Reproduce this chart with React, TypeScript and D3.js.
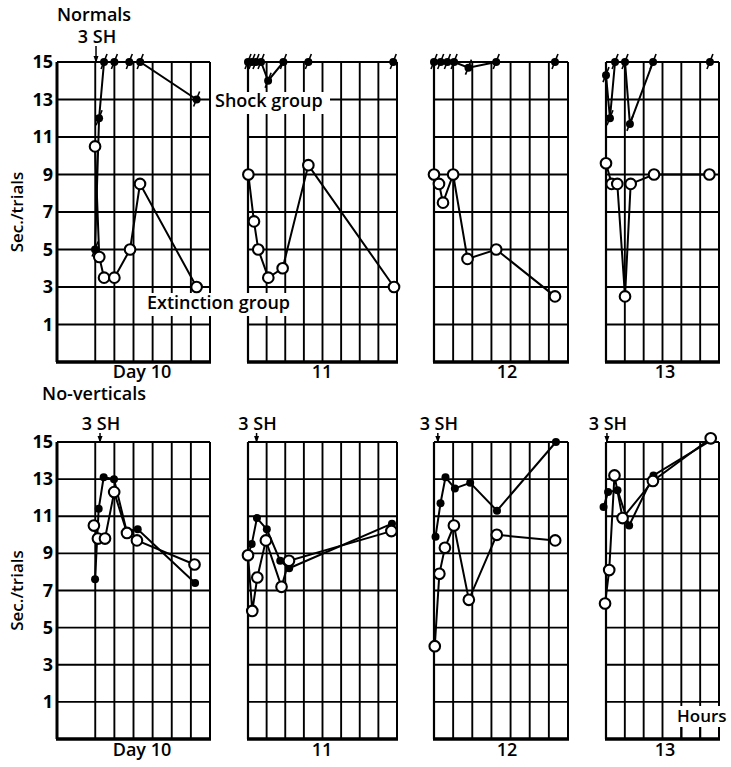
import React from 'react';
import * as d3 from 'd3';

type Pt = [number, number]; // [hour within the day, sec./trial]

const dayLabels = ['Day 10', '11', '12', '13'];
const panelHours = [8, 8, 7, 6];
const yTicks = [15, 13, 11, 9, 7, 5, 3, 1];
const gridValues = [15, 13, 11, 9, 7, 5, 3, 1, -1];

// Normals
const normalsShock10: Pt[] = [[1.99, 5], [2.2, 12], [2.46, 15], [3.0, 15], [3.78, 15], [4.35, 15], [7.3, 13]];
const normalsExt10: Pt[] = [[1.99, 10.5], [2.21, 4.6], [2.46, 3.5], [3.0, 3.5], [3.82, 5], [4.34, 8.5], [7.3, 3]];
const normalsShock11: Pt[] = [[0, 15], [0.21, 15], [0.43, 15], [0.7, 15], [1.08, 14], [1.9, 15], [3.24, 15], [7.8, 15]];
const normalsExt11: Pt[] = [[0.02, 9], [0.32, 6.5], [0.55, 5], [1.09, 3.5], [1.86, 4], [3.24, 9.5], [7.84, 3]];
const normalsShock12: Pt[] = [[0, 15], [0.35, 15], [0.7, 15], [1.05, 15], [1.8, 14.7], [3.25, 15], [6.32, 15]];
const normalsExt12: Pt[] = [[0, 9], [0.26, 8.5], [0.47, 7.5], [1.0, 9], [1.75, 4.5], [3.25, 5], [6.32, 2.5]];
const normalsShock13: Pt[] = [[0, 14.3], [0.21, 12], [0.48, 15], [1.01, 15], [1.27, 11.7], [2.5, 15], [5.52, 15]];
const normalsExt13: Pt[] = [[0, 9.6], [0.3, 8.5], [0.6, 8.5], [1.01, 2.5], [1.31, 8.5], [2.55, 9], [5.49, 9]];

// No-verticals
const noVertShock10: Pt[] = [[1.99, 7.6], [2.18, 11.4], [2.44, 13.1], [2.98, 13], [3.64, 10.2], [4.22, 10.3], [7.22, 7.4]];
const noVertExt10: Pt[] = [[1.93, 10.5], [2.14, 9.8], [2.51, 9.8], [2.99, 12.3], [3.66, 10.1], [4.18, 9.7], [7.19, 8.4]];
const noVertShock11: Pt[] = [[0, 8.9], [0.2, 9.5], [0.48, 10.9], [1.01, 10.3], [1.73, 8.6], [2.21, 8.2], [7.73, 10.6]];
const noVertExt11: Pt[] = [[0, 8.9], [0.23, 5.9], [0.5, 7.7], [0.96, 9.7], [1.8, 7.2], [2.2, 8.6], [7.7, 10.2]];
const noVertShock12: Pt[] = [[0.08, 9.9], [0.34, 11.7], [0.6, 13.1], [1.09, 12.5], [1.89, 12.8], [3.29, 11.3], [6.37, 15]];
const noVertExt12: Pt[] = [[0.04, 4], [0.28, 7.9], [0.57, 9.3], [1.04, 10.5], [1.82, 6.5], [3.28, 10], [6.33, 9.7]];
const noVertShock13: Pt[] = [[-0.13, 11.5], [0.11, 12.3], [0.61, 12.4], [1.23, 10.5], [2.52, 13.2], [5.6, 15.1]];
const noVertExt13: Pt[] = [[-0.05, 6.3], [0.17, 8.1], [0.45, 13.2], [0.88, 10.9], [2.49, 12.9], [5.56, 15.2]];

// hour at which the 3 shocks were given (null = not marked)
const normalsShockAt = [2.04, null, null, null];
const noVertShockAt = [2.25, 0.46, 0.2, 0.05];

const font = "'Open Sans', Lato, sans-serif";
const panelX: [number, number][] = [[57, 210], [248, 397], [434, 568], [606, 719]];
const dayLabelX = [142, 322, 507, 665];
const gridSkip = [[1], [], [], []];

const rows = [
  {
    title: 'Normals', titleY: 21, shY: 43, dayY: 378, top: 62, bottom: 362,
    shock: [normalsShock10, normalsShock11, normalsShock12, normalsShock13],
    ext: [normalsExt10, normalsExt11, normalsExt12, normalsExt13],
    shockAt: normalsShockAt, slash: true,
  },
  {
    title: 'No-verticals', titleY: 400, shY: 430, dayY: 756, top: 442, bottom: 739,
    shock: [noVertShock10, noVertShock11, noVertShock12, noVertShock13],
    ext: [noVertExt10, noVertExt11, noVertExt12, noVertExt13],
    shockAt: noVertShockAt, slash: false,
  },
];

const Row: React.FC<{ r: typeof rows[0] }> = ({ r }) => {
  const y = d3.scaleLinear().domain([-1, 15]).range([r.bottom, r.top]);
  return (
    <g fontFamily={font} fontWeight={600}>
      {/* y axis labels */}
      {yTicks.map(t => (
        <text key={t} x={53} y={y(t) + 6} textAnchor="end" fontSize={18} fontWeight={700}>{t}</text>
      ))}
      <text transform={`translate(23,${(y(9) + y(5)) / 2}) rotate(-90)`} textAnchor="middle" fontSize={17}>Sec./trials</text>
      <text x={94} y={r.titleY} textAnchor="middle" fontSize={18}>{r.title}</text>

      {panelX.map(([x0, x1], pi) => {
        const x = d3.scaleLinear().domain([0, panelHours[pi]]).range([x0, x1]);
        const hours = d3.range(1, panelHours[pi]).filter(h => !gridSkip[pi].includes(h));
        const sa = r.shockAt[pi];
        return (
          <g key={pi}>
            {gridValues.slice(1, -1).map(v => (
              <line key={v} x1={x0} x2={x1} y1={y(v)} y2={y(v)} stroke="#000" strokeWidth={1.9} />
            ))}
            {hours.map(h => (
              <line key={h} x1={x(h)} x2={x(h)} y1={r.top} y2={r.bottom} stroke="#000" strokeWidth={1.9} />
            ))}
            <line x1={x0} x2={x1} y1={r.top} y2={r.top} stroke="#000" strokeWidth={2} />
            <line x1={x1} x2={x1} y1={r.top} y2={r.bottom} stroke="#000" strokeWidth={2} />
            <line x1={x0} x2={x0} y1={r.top} y2={r.bottom} stroke="#000" strokeWidth={pi === 0 ? 3 : 2.2} />
            <line x1={x0 - 1} x2={x1 + 1} y1={r.bottom} y2={r.bottom} stroke="#000" strokeWidth={3.5} />
            <text x={dayLabelX[pi]} y={r.dayY} textAnchor="middle" fontSize={18}>{dayLabels[pi]}</text>
            {sa !== null && (
              <g>
                <text x={x(sa) + 1} y={r.shY} textAnchor="middle" fontSize={18}>3 SH</text>
                <line x1={x(sa)} x2={x(sa)} y1={r.shY + 3} y2={r.top + 1} stroke="#000" strokeWidth={1.5} />
                <path d={`M${x(sa) - 2.5},${r.top - 6} L${x(sa) + 2.5},${r.top - 6} L${x(sa)},${r.top + 1} Z`} fill="#000" />
              </g>
            )}
          </g>
        );
      })}
    </g>
  );
};

const Series: React.FC<{ r: typeof rows[0] }> = ({ r }) => {
  const y = d3.scaleLinear().domain([-1, 15]).range([r.bottom, r.top]);
  return (
    <g>
      {panelX.map(([x0, x1], pi) => {
        const x = d3.scaleLinear().domain([0, panelHours[pi]]).range([x0, x1]);
        const line = d3.line<Pt>().x(d => x(d[0])).y(d => y(d[1]));
        return (
          <g key={pi}>
            <path d={line(r.shock[pi]) || ''} fill="none" stroke="#000" strokeWidth={2} />
            <path d={line(r.ext[pi]) || ''} fill="none" stroke="#000" strokeWidth={2} />
            {r.shock[pi].map((d, i) => (
              <g key={i}>
                <circle cx={x(d[0])} cy={y(d[1])} r={4} fill="#000" />
                {r.slash && <line x1={x(d[0]) - 3} y1={y(d[1]) + 7} x2={x(d[0]) + 3} y2={y(d[1]) - 8} stroke="#000" strokeWidth={1.6} />}
              </g>
            ))}
            {r.ext[pi].map((d, i) => (
              <circle key={i} cx={x(d[0])} cy={y(d[1])} r={5.3} fill="#fff" stroke="#000" strokeWidth={2.1} />
            ))}
          </g>
        );
      })}
    </g>
  );
};

export default function App() {
  const bx = d3.scaleLinear().domain([0, panelHours[3]]).range(panelX[3]);
  return (
    <div style={{ position: 'absolute', left: 0, top: 0 }}>
      <svg width={731} height={767} style={{ display: 'block', background: '#fff' }}>
        <Row r={rows[0]} />
        <Row r={rows[1]} />
        {/* label backgrounds */}
        <rect x={212} y={92} width={118} height={22} fill="#fff" />
        <rect x={144} y={293} width={158} height={23} fill="#fff" />
        <rect x={675} y={706} width={56} height={21} fill="#fff" />
        <Series r={rows[0]} />
        <Series r={rows[1]} />
        <g fontFamily={font} fontWeight={600}>
          <text x={215} y={107} fontSize={18}>Shock group</text>
          <text x={147} y={309} fontSize={18}>Extinction group</text>
          <text x={677} y={722} fontSize={17}>Hours</text>
        </g>
        {[4, 5, 6].map(h => (
          <line key={h} x1={bx(h)} x2={bx(h)} y1={727} y2={739} stroke="#000" strokeWidth={2} />
        ))}
      </svg>
    </div>
  );
}
